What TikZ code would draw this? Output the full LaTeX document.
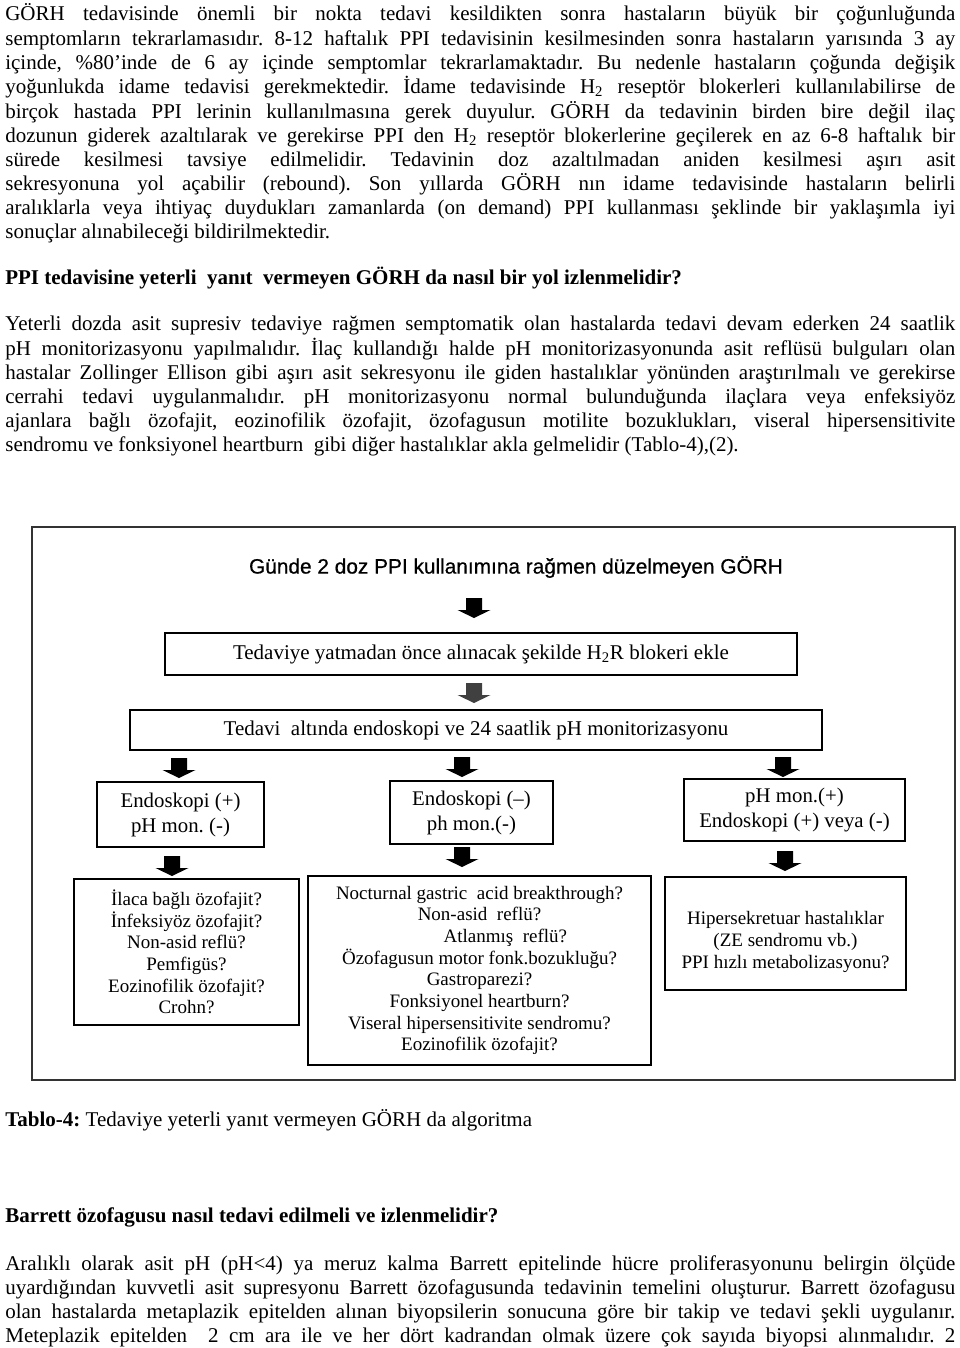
\documentclass[tikz,border=0pt]{standalone}
\usepackage{fontspec}
\setmainfont{Liberation Serif}
\newfontfamily\arialf[FakeBold=0.6]{Liberation Sans}
\definecolor{framegray}{HTML}{333333}
\definecolor{arrgray}{HTML}{404040}
\frenchspacing
\tikzset{
  txt/.style={anchor=base west, inner sep=0pt, font=\fontsize{12.6}{14}\selectfont},
  fbox/.style={draw=black, line width=1.2pt, inner sep=0pt, align=center, font=\fontsize{12.6}{13}\selectfont},
  fbox3/.style={fbox, font=\fontsize{12.5}{15}\selectfont},
  fbox4/.style={fbox, font=\fontsize{11.4}{13}\selectfont},
}
\newcommand\jline[3]{\node[txt] (#1) at (5,#2) {\makebox[570pt][s]{#3}};}
\newcommand\fline[3]{\node[txt] (#1) at (5,#2) {#3};}
\newcommand\boxnode[7]{\node[#7, minimum width={(#4-#2)*0.6pt}, minimum height={(#5-#3)*0.6pt}] (#1) at ({(#2+#4)/2},{(#3+#5)/2}) {#6};}
\newcommand\barrow[4]{%
  \coordinate (#1) at (#2,#3);
  \fill[#4] ([shift={(-8,0)}]#1) -- ([shift={(8,0)}]#1) -- ([shift={(8,12)}]#1) -- ([shift={(16.5,12)}]#1)
     -- ([shift={(0,20)}]#1) -- ([shift={(-16.5,12)}]#1) -- ([shift={(-8,12)}]#1) -- cycle;}
\begin{document}
\begin{tikzpicture}[x=0.6pt, y=-0.6pt]
\useasboundingbox (0,0) rectangle (960,1348);
\fill[white] (0,0) rectangle (960,1348);

% paragraph 1
\jline{p1a}{20}{GÖRH tedavisinde  önemli bir nokta  tedavi kesildikten sonra hastaların büyük bir çoğunluğunda}
\jline{p1b}{45}{semptomların tekrarlamasıdır. 8-12 haftalık PPI tedavisinin kesilmesinden sonra  hastaların yarısında 3 ay}
\jline{p1c}{69}{içinde, \%80’inde de 6 ay içinde semptomlar tekrarlamaktadır. Bu nedenle hastaların çoğunda değişik}
\jline{p1d}{93}{yoğunlukda idame tedavisi gerekmektedir. İdame tedavisinde H\textsubscript{2} reseptör blokerleri  kullanılabilirse de}
\jline{p1e}{118}{birçok hastada  PPI lerinin kullanılmasına gerek duyulur. GÖRH da tedavinin birden bire değil ilaç}
\jline{p1f}{142}{dozunun giderek azaltılarak ve gerekirse PPI den H\textsubscript{2} reseptör blokerlerine geçilerek en az 6-8 haftalık bir}
\jline{p1g}{166}{sürede kesilmesi tavsiye edilmelidir. Tedavinin  doz azaltılmadan aniden  kesilmesi  aşırı asit}
\jline{p1h}{190}{sekresyonuna  yol açabilir  (rebound). Son yıllarda GÖRH nın idame tedavisinde  hastaların belirli}
\jline{p1i}{214}{aralıklarla veya ihtiyaç duydukları zamanlarda (on demand) PPI kullanması şeklinde bir yaklaşımla iyi}
\fline{p1j}{238}{sonuçlar alınabileceği bildirilmektedir.}

\fline{h1}{284}{\textbf{PPI tedavisine yeterli \ yanıt \ vermeyen GÖRH da nasıl bir yol izlenmelidir?}}

% paragraph 2
\jline{p2a}{330}{Yeterli dozda asit supresiv tedaviye rağmen semptomatik olan hastalarda tedavi devam ederken 24 saatlik}
\jline{p2b}{355}{pH monitorizasyonu yapılmalıdır. İlaç kullandığı halde pH monitorizasyonunda asit reflüsü bulguları olan}
\jline{p2c}{379}{hastalar Zollinger Ellison gibi aşırı asit sekresyonu ile giden hastalıklar yönünden araştırılmalı ve gerekirse}
\jline{p2d}{403}{cerrahi tedavi uygulanmalıdır. pH monitorizasyonu normal bulunduğunda  ilaçlara veya  enfeksiyöz}
\jline{p2e}{427}{ajanlara bağlı özofajit, eozinofilik özofajit, özofagusun motilite bozuklukları, viseral hipersensitivite}
\fline{p2f}{451}{sendromu ve fonksiyonel heartburn \ gibi diğer hastalıklar akla gelmelidir (Tablo-4),(2).}

% flowchart frame
\node[draw=framegray, line width=1.5pt, inner sep=0pt, minimum width={(955-32)*0.6pt}, minimum height={(1080-527)*0.6pt}] (frame) at ({(32+955)/2},{(527+1080)/2}) {};

\node[inner sep=0pt, font=\arialf\fontsize{12.5}{15}\selectfont] (title) at (516,567) {Günde 2 doz PPI kullanımına rağmen düzelmeyen GÖRH};

\barrow{a1}{474}{598}{black}
\boxnode{b1}{165}{633}{797}{675}{Tedaviye yatmadan önce alınacak şekilde H\textsubscript{2}R blokeri ekle}{fbox}
\barrow{a2}{474}{683}{arrgray}
\boxnode{b2}{130}{710}{822}{750}{Tedavi \ altında endoskopi ve 24 saatlik pH monitorizasyonu}{fbox}

\barrow{a3a}{179}{758}{black}
\barrow{a3b}{462}{757}{black}
\barrow{a3c}{783}{757}{black}

\boxnode{b3a}{97}{782}{264}{847}{Endoskopi (+)\\pH mon. (-)}{fbox3}
\boxnode{b3b}{390}{781}{553}{844}{Endoskopi (–)\\ph mon.(-)}{fbox3}
\boxnode{b3c}{684}{779}{905}{841}{pH mon.(+)\\Endoskopi (+) veya (-)}{fbox3}

\barrow{a4a}{172}{856}{black}
\barrow{a4b}{462}{847}{black}
\barrow{a4c}{785}{851}{black}

\boxnode{b4a}{74}{879}{299}{1025}{İlaca bağlı özofajit?\\İnfeksiyöz özofajit?\\Non-asid reflü?\\Pemfigüs?\\Eozinofilik özofajit?\\Crohn?}{fbox4}
\boxnode{b4b}{308}{876}{651}{1065}{Nocturnal gastric \ acid breakthrough?\\Non-asid \ reflü?\\\hspace*{31pt}Atlanmış \ reflü?\\Özofagusun motor fonk.bozukluğu?\\Gastroparezi?\\Fonksiyonel heartburn?\\Viseral hipersensitivite sendromu?\\Eozinofilik özofajit?}{fbox4}
\boxnode{b4c}{665}{877}{906}{990}{\rule{0pt}{18pt}Hipersekretuar hastalıklar\\(ZE sendromu vb.)\\PPI hızlı metabolizasyonu?}{fbox4}

% caption and following text
\fline{cap}{1126}{\textbf{Tablo-4:} Tedaviye yeterli yanıt vermeyen GÖRH da algoritma}
\fline{h2}{1222}{\textbf{Barrett özofagusu nasıl tedavi edilmeli ve izlenmelidir?}}

\jline{p3a}{1270}{Aralıklı olarak asit pH (pH<4) ya meruz kalma Barrett epitelinde hücre proliferasyonunu belirgin ölçüde}
\jline{p3b}{1294}{uyardığından kuvvetli asit supresyonu Barrett özofagusunda tedavinin temelini oluşturur. Barrett özofagusu}
\jline{p3c}{1318}{olan hastalarda metaplazik epitelden alınan biyopsilerin sonucuna göre bir takip ve tedavi şekli uygulanır.}
\jline{p3d}{1342}{Meteplazik epitelden \ 2 cm ara ile ve her dört kadrandan olmak üzere çok sayıda biyopsi alınmalıdır. 2}
\end{tikzpicture}
\end{document}
